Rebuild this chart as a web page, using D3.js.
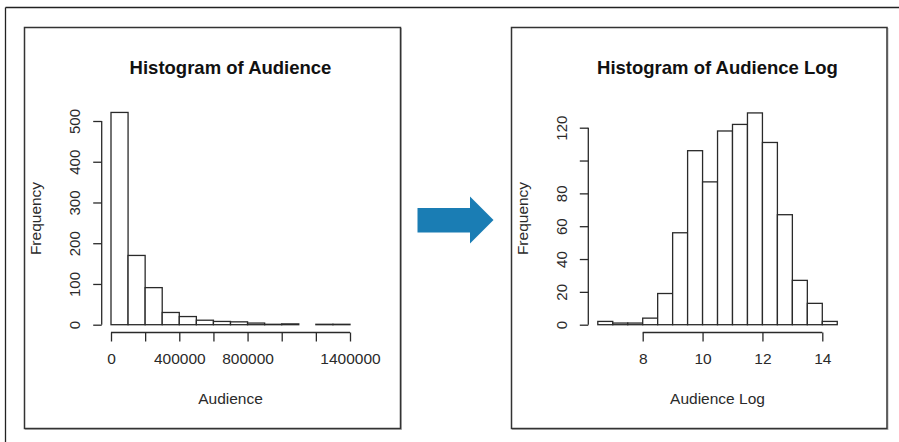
<!DOCTYPE html>
<html>
<head>
<meta charset="utf-8">
<script src="https://cdn.jsdelivr.net/npm/d3@7"></script>
<style>
  html, body { margin: 0; padding: 0; background: #fff; }
  svg { display: block; font-family: "Liberation Sans", Arial, Helvetica, sans-serif; }
</style>
</head>
<body>
<svg id="chart" width="899" height="442"></svg>
<script>
// ---------- Data ----------
// Left histogram: Audience, bins of 100000
const audienceBinStarts = [0, 100000, 200000, 300000, 400000, 500000, 600000, 700000, 800000, 900000, 1000000, 1100000, 1200000, 1300000];
const audienceBinWidth = 100000;
const audienceCounts = [521, 170, 91, 30, 20, 11, 8, 7, 4, 1, 2, 0, 1, 1];
const audienceXTicks = [0, 200000, 400000, 600000, 800000, 1000000, 1200000, 1400000];
const audienceXLabels = ["0", "", "400000", "", "800000", "", "", "1400000"];
const audienceYTicks = [0, 100, 200, 300, 400, 500];
const audienceYLabels = ["0", "100", "200", "300", "400", "500"];

// Right histogram: Audience Log, bins of 0.5
const logBinStarts = [6.5, 7, 7.5, 8, 8.5, 9, 9.5, 10, 10.5, 11, 11.5, 12, 12.5, 13, 13.5, 14];
const logBinWidth = 0.5;
const logCounts = [2, 1, 1, 4, 19, 56, 106, 87, 118, 122, 129, 111, 67, 27, 13, 2];
const logXTicks = [8, 10, 12, 14];
const logXLabels = ["8", "10", "12", "14"];
const logYTicks = [0, 20, 40, 60, 80, 100, 120];
const logYLabels = ["0", "20", "40", "60", "80", "", "120"];

const titles = ["Histogram of Audience", "Histogram of Audience Log"];
const xTitles = ["Audience", "Audience Log"];
const yTitle = "Frequency";

// ---------- Drawing ----------
const svg = d3.select("#chart");
const ink = "#2a2a2a";

// outer frame (top & left edges)
svg.append("line").attr("x1", 5.5).attr("y1", 7.5).attr("x2", 899).attr("y2", 7.5)
  .attr("stroke", "#222").attr("stroke-width", 1.3);
svg.append("line").attr("x1", 5.5).attr("y1", 7.5).attr("x2", 5.5).attr("y2", 442)
  .attr("stroke", "#222").attr("stroke-width", 1.3);

// panel boxes
[[24.5, 27.5, 376, 401], [511.5, 27.5, 375.5, 401]].forEach(([x, y, w, h]) => {
  svg.append("rect").attr("x", x + 1).attr("y", y + 1).attr("width", w).attr("height", h)
    .attr("fill", "none").attr("stroke", "#bbb").attr("stroke-width", 1);
  svg.append("rect").attr("x", x).attr("y", y).attr("width", w).attr("height", h)
    .attr("fill", "#fff").attr("stroke", "#333").attr("stroke-width", 1.5);
});

// arrow
svg.append("path")
  .attr("d", "M417.5,208 L470,208 L470,196.5 L493.5,220 L470,243.5 L470,232.5 L417.5,232.5 Z")
  .attr("fill", "#1a7db4");

function drawHist(cfg) {
  const g = svg.append("g");
  const x = d3.scaleLinear().domain(cfg.xDomain).range(cfg.xRange);
  const y = d3.scaleLinear().domain(cfg.yDomain).range(cfg.yRange);

  // bars
  g.selectAll("rect.bar").data(cfg.starts).enter().append("rect")
    .attr("class", "bar")
    .attr("x", (d) => x(d))
    .attr("width", (d) => x(d + cfg.binWidth) - x(d))
    .attr("y", (d, i) => y(cfg.counts[i]))
    .attr("height", (d, i) => y(0) - y(cfg.counts[i]))
    .attr("fill", "#fff").attr("stroke", ink).attr("stroke-width", 1.3);

  // x axis
  const xAxis = d3.axisBottom(x).tickValues(cfg.xTicks).tickSizeOuter(0).tickSize(9).tickPadding(11)
    .tickFormat((d, i) => cfg.xLabels[i]);
  const gx = g.append("g").attr("transform", `translate(0,${cfg.xAxisY})`).call(xAxis);
  gx.select(".domain").attr("d", `M${x(cfg.xTicks[0])},0H${x(cfg.xTicks[cfg.xTicks.length - 1])}`);
  gx.selectAll("path,line").attr("stroke", ink).attr("stroke-width", 1.3);
  gx.selectAll("text").attr("font-size", 15.5).attr("fill", ink).attr("font-family", null);

  // y axis
  const yAxis = d3.axisLeft(y).tickValues(cfg.yTicks).tickSizeOuter(0).tickSize(8.5).tickPadding(0)
    .tickFormat((d, i) => cfg.yLabels[i]);
  const gy = g.append("g").attr("transform", `translate(${cfg.yAxisX},0)`).call(yAxis);
  gy.select(".domain").attr("d", `M0,${y(cfg.yTicks[0])}V${y(cfg.yTicks[cfg.yTicks.length - 1])}`);
  gy.selectAll("path,line").attr("stroke", ink).attr("stroke-width", 1.3);
  gy.selectAll("text").attr("font-size", 15).attr("fill", ink).attr("font-family", null)
    .attr("text-anchor", "middle").attr("dy", null).attr("x", null)
    .attr("transform", `translate(${cfg.yLabelX - cfg.yAxisX},0) rotate(-90)`);

  // titles
  g.append("text").attr("x", cfg.titleX).attr("y", 74).attr("text-anchor", "middle")
    .attr("font-size", 18.5).attr("font-weight", "bold").attr("fill", "#111").text(cfg.title);
  g.append("text").attr("x", cfg.titleX).attr("y", 404).attr("text-anchor", "middle")
    .attr("font-size", 15.5).attr("fill", ink).text(cfg.xTitle);
  g.append("text").attr("transform", `translate(${cfg.yTitleX},218.5) rotate(-90)`)
    .attr("text-anchor", "middle").attr("font-size", 15.5).attr("fill", ink).text(yTitle);
}

drawHist({
  starts: audienceBinStarts, binWidth: audienceBinWidth, counts: audienceCounts,
  xDomain: [0, 1400000], xRange: [111, 350],
  yDomain: [0, 500], yRange: [324.7, 121],
  xTicks: audienceXTicks, xLabels: audienceXLabels,
  yTicks: audienceYTicks, yLabels: audienceYLabels,
  xAxisY: 332.5, yAxisX: 101.7, yLabelX: 79.5,
  titleX: 230.5, title: titles[0], xTitle: xTitles[0], yTitleX: 41
});

drawHist({
  starts: logBinStarts, binWidth: logBinWidth, counts: logCounts,
  xDomain: [8, 14], xRange: [642.7, 822.3],
  yDomain: [0, 120], yRange: [324.7, 127.7],
  xTicks: logXTicks, xLabels: logXLabels,
  yTicks: logYTicks, yLabels: logYLabels,
  xAxisY: 332.5, yAxisX: 588.3, yLabelX: 567,
  titleX: 717.5, title: titles[1], xTitle: xTitles[1], yTitleX: 528
});
</script>
</body>
</html>
